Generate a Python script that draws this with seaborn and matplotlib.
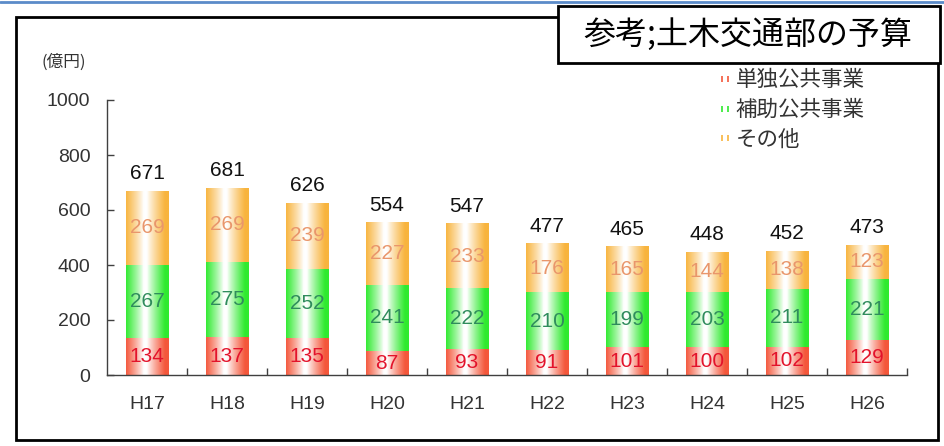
import numpy as np
import pandas as pd
import matplotlib
matplotlib.use("Agg")
import matplotlib.pyplot as plt
import seaborn as sns
from matplotlib.patches import Rectangle
from matplotlib.lines import Line2D
from matplotlib.legend_handler import HandlerTuple
from matplotlib.colors import to_rgb

years = ["H17", "H18", "H19", "H20", "H21", "H22", "H23", "H24", "H25", "H26"]
dantoku = [134, 137, 135, 87, 93, 91, 101, 100, 102, 129]
hojo = [267, 275, 252, 241, 222, 210, 199, 203, 211, 221]
sonota = [269, 269, 239, 227, 233, 176, 165, 144, 138, 123]
totals = [671, 681, 626, 554, 547, 477, 465, 448, 452, 473]
series_names = ["単独公共事業", "補助公共事業", "その他"]
yticks = [0, 200, 400, 600, 800, 1000]

sns.set_style("white")
plt.rcParams['font.family'] = ['Liberation Sans', 'Noto Sans CJK JP']
CJK = ['Noto Sans CJK JP', 'DejaVu Sans']

W, H = 945, 446
fig = plt.figure(figsize=(W / 100, H / 100), dpi=100)
ax = fig.add_axes([107 / W, 1 - 375 / H, 800 / W, 275 / H])

df = pd.DataFrame({"year": years, "d": dantoku, "h": hojo, "s": sonota})
bottom2 = [a + b for a, b in zip(dantoku, hojo)]

cols = ["#f4573b", "#2fea2f", "#f8b43e"]
label_cols = ["#e3132b", "#2f8c5c", "#e9966b"]
bw = 0.53

sns.barplot(data=df, x="year", y="d", color=cols[0], width=bw, ax=ax,
            saturation=1, linewidth=0)
sns.barplot(data=df, x="year", y="h", bottom=dantoku, color=cols[1], width=bw,
            ax=ax, saturation=1, linewidth=0)
sns.barplot(data=df, x="year", y="s", bottom=bottom2, color=cols[2], width=bw,
            ax=ax, saturation=1, linewidth=0)

# horizontal gradient fill (colour at edges, white near centre)
n = len(years)
xs = np.linspace(0, 1, 200)
mix = np.clip((np.abs(xs - 0.45) - 0.04) / 0.42, 0, 1) ** 0.85
for i, p in enumerate(ax.patches):
    c = np.array(to_rgb(cols[i // n]))
    img = (mix[:, None] * c[None, :] + (1 - mix[:, None]) * np.ones(3)[None, :])
    img = img[None, :, :]
    x0, y0 = p.get_x(), p.get_y()
    w, h = p.get_width(), p.get_height()
    ax.imshow(img, extent=[x0, x0 + w, y0, y0 + h], aspect='auto',
              interpolation='bilinear', zorder=2)
    p.set_alpha(0)

# value labels
for i in range(n):
    segs = [(0, dantoku[i]), (dantoku[i], hojo[i]), (bottom2[i], sonota[i])]
    for k, (b, v) in enumerate(segs):
        lab = [dantoku, hojo, sonota][k][i]
        ax.text(i, b + v / 2, str(lab), ha='center', va='center',
                fontsize=15, color=label_cols[k], zorder=4)
    top = bottom2[i] + sonota[i]
    ax.annotate(str(totals[i]), (i, top), xytext=(0, 12.5), textcoords='offset points',
                ha='center', va='center', fontsize=15, color='#111111', zorder=4)

ax.set_xlim(-0.5, n - 0.5)
ax.set_ylim(0, 1000)
ax.set_yticks(yticks)
ax.set_yticklabels([str(t) for t in yticks])
ax.set_xlabel("")
ax.set_ylabel("")
for s in ["top", "right"]:
    ax.spines[s].set_visible(False)
for s in ["left", "bottom"]:
    ax.spines[s].set_color("#404040")
    ax.spines[s].set_linewidth(1.0)
ax.tick_params(axis='y', direction='in', length=5, width=1, color='#404040',
               labelsize=14, labelcolor='#333333', pad=12, left=True)
ax.set_xticks(range(n))
ax.set_xticklabels(years)
ax.tick_params(axis='x', length=0, labelsize=14, labelcolor='#333333', pad=15)
ax.set_xticks(np.arange(0.5, n, 1.0), minor=True)
ax.tick_params(axis='x', which='minor', direction='in', length=5, width=1,
               color='#404040', bottom=True)
ax.grid(False)

fig.text(64 / W, 1 - 62 / H, "(億円)", ha='center', va='center', fontsize=12,
         color='#333333', family=CJK)

# legend
handles = []
for c in cols:
    handles.append((Line2D([], [], marker='|', ls='', color=c, markersize=5, mew=1.2),
                    Line2D([], [], marker='|', ls='', color=c, markersize=5, mew=1.2)))
leg = fig.legend(handles, series_names, loc='upper left',
                 bbox_to_anchor=(700 / W, 1 - 50 / H), frameon=False,
                 handler_map={tuple: HandlerTuple(ndivide=None, pad=0.05)},
                 handlelength=0.5, handletextpad=0.25, labelspacing=0.36,
                 prop={'family': CJK, 'size': 15.5})
for t in leg.get_texts():
    t.set_color('#333333')

# outer frame
fig.patches.append(Rectangle((16 / W, 1 - 440 / H), (938 - 16) / W, (440 - 17) / H,
                             transform=fig.transFigure, fill=False, ec='black',
                             lw=2, zorder=0))
# top blue line
fig.add_artist(Line2D([0, 1], [1 - 1.5 / H, 1 - 1.5 / H], transform=fig.transFigure,
                      color='#5b8bc9', lw=2))
# title box
fig.add_artist(Rectangle((558 / W, 1 - 63 / H), (940 - 558) / W, (63 - 6) / H,
                         transform=fig.transFigure, fc='white', ec='black',
                         lw=2, zorder=5))
fig.text(748 / W, 1 - 35 / H, "参考;土木交通部の予算", ha='center', va='center',
         fontsize=23, color='black', family=CJK, zorder=6)

fig.savefig("out.png", dpi=100)
